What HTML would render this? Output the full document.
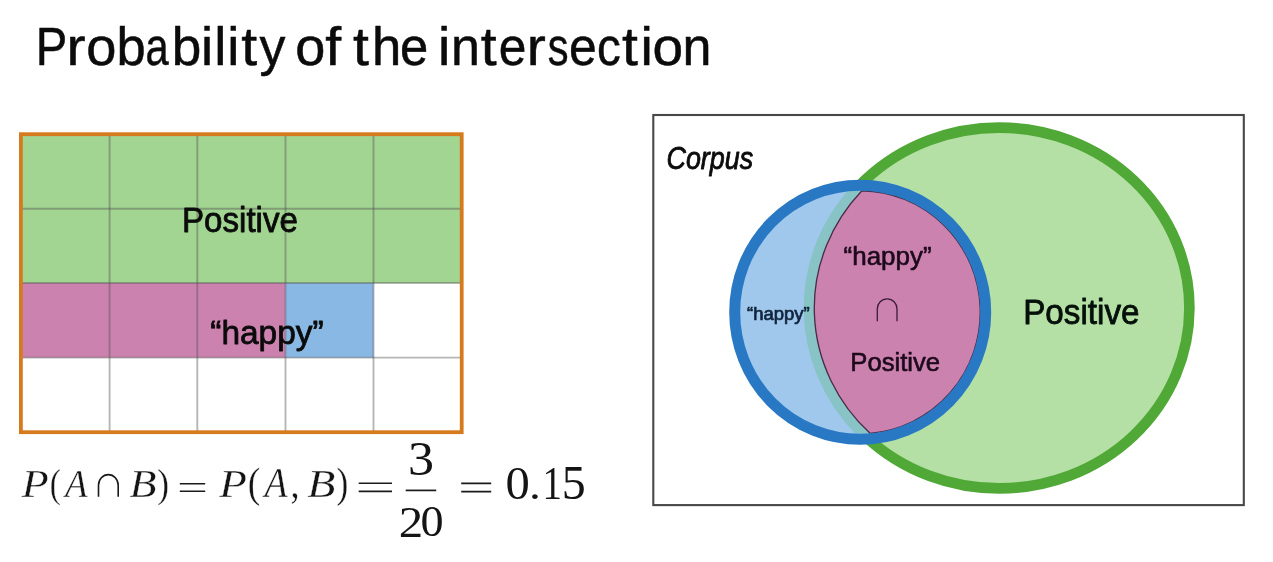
<!DOCTYPE html>
<html lang="en">
<head>
<meta charset="utf-8">
<title>Probability of the intersection</title>
<style>
  html, body { margin: 0; padding: 0; background: #ffffff; }
  body { width: 1273px; height: 562px; overflow: hidden; position: relative;
         font-family: "Liberation Sans", sans-serif; }
  svg { position: absolute; left: 0; top: 0; display: block; }
  svg text { font-kerning: none; white-space: pre; }
</style>
</head>
<body>
<svg width="1273" height="562" viewBox="0 0 1273 562">
  <defs>
    <filter id="soft" x="0" y="0" width="1273" height="562" filterUnits="userSpaceOnUse" color-interpolation-filters="sRGB"><feGaussianBlur stdDeviation="0.65"/></filter>
    <clipPath id="blueInner"><ellipse cx="860.2" cy="312.25" rx="120.00" ry="121.50"/></clipPath>
  </defs>
  <rect x="0" y="0" width="1273" height="562" fill="#ffffff"/>

  <g id="slide" filter="url(#soft)">
  <rect x="0" y="0" width="1273" height="562" fill="#ffffff"/>
  <!-- ===== Grid ===== -->
  <g id="grid">
    <rect x="21" y="134" width="440" height="149" fill="#a2d492"/>
    <rect x="21" y="283" width="264.6" height="74.6" fill="#cc82ae"/>
    <rect x="285.6" y="283" width="87.9" height="74.6" fill="#89b8e4"/>
    <g stroke="#505050" stroke-opacity="0.42" stroke-width="1.9" fill="none">
      <line x1="109.6" y1="134" x2="109.6" y2="432"/>
      <line x1="197.3" y1="134" x2="197.3" y2="432"/>
      <line x1="285.5" y1="134" x2="285.5" y2="432"/>
      <line x1="373.5" y1="134" x2="373.5" y2="432"/>
      <line x1="21" y1="208.8" x2="461" y2="208.8"/>
      <line x1="21" y1="283" x2="461" y2="283"/>
      <line x1="21" y1="357.6" x2="461" y2="357.6"/>
    </g>
    <rect x="20.9" y="134.2" width="440.8" height="298" fill="none" stroke="#d67a1e" stroke-width="3.8"/>
  </g>

  <!-- ===== Venn diagram ===== -->
  <g id="venn">
    <rect x="653.3" y="115" width="590.5" height="390.1" fill="#ffffff" stroke="#484848" stroke-width="2.1"/>
    <ellipse cx="999.2" cy="308.0" rx="190.2" ry="180.4" fill="#b5e0a5" stroke="#50a836" stroke-width="10.6"/>
    <ellipse cx="860.2" cy="312.25" rx="125.5" ry="127.0" fill="#a0c7ec" stroke="none"/>
    <ellipse cx="999.2" cy="308.0" rx="190.2" ry="180.4" fill="none" stroke="#88c3c6" stroke-width="10.6" clip-path="url(#blueInner)"/>
    <path d="M861.86 190.76 A120.00 121.50 0 0 1 870.08 433.34 A184.90 175.10 0 0 1 861.86 190.76 Z" fill="#cc82ae" stroke="#4a2a44" stroke-width="1.3" stroke-linejoin="round"/>
    <ellipse cx="860.2" cy="312.25" rx="125.5" ry="127.0" fill="none" stroke="#2878c4" stroke-width="11.0"/>
    <path id="vcap" d="M877.3 321.3 V308.9 a9.85 10.1 0 0 1 19.7 0 V321.3" fill="none" stroke="#3a1c3a" stroke-width="1.3"/>
  </g>

  <!-- ===== Text labels ===== -->
  <g id="labels">
    <text id="title" transform="matrix(1 0 0 1.0300 0 65.4)" y="0" style="font-family:'Liberation Sans',sans-serif;font-size:52px;fill:#0b0b0b;stroke:#0b0b0b;stroke-width:0.5px;stroke-linejoin:round;"><tspan x="35.68" textLength="31.46" lengthAdjust="spacingAndGlyphs">P</tspan><tspan x="66.55" textLength="19.05" lengthAdjust="spacingAndGlyphs">r</tspan><tspan x="86.37" textLength="30.15" lengthAdjust="spacingAndGlyphs">o</tspan><tspan x="116.47" textLength="29.19" lengthAdjust="spacingAndGlyphs">b</tspan><tspan x="145.40" textLength="23.14" lengthAdjust="spacingAndGlyphs">a</tspan><tspan x="171.82" textLength="29.56" lengthAdjust="spacingAndGlyphs">b</tspan><tspan x="201.10" textLength="12.13" lengthAdjust="spacingAndGlyphs">i</tspan><tspan x="214.17" textLength="12.13" lengthAdjust="spacingAndGlyphs">l</tspan><tspan x="227.30" textLength="12.13" lengthAdjust="spacingAndGlyphs">i</tspan><tspan x="241.18" textLength="15.89" lengthAdjust="spacingAndGlyphs">t</tspan><tspan x="259.62" textLength="25.93" lengthAdjust="spacingAndGlyphs">y</tspan> <tspan x="295.28" textLength="30.04" lengthAdjust="spacingAndGlyphs">o</tspan><tspan x="325.16" textLength="15.89" lengthAdjust="spacingAndGlyphs">f</tspan> <tspan x="353.08" textLength="15.89" lengthAdjust="spacingAndGlyphs">t</tspan><tspan x="371.90" textLength="29.27" lengthAdjust="spacingAndGlyphs">h</tspan><tspan x="399.90" textLength="28.21" lengthAdjust="spacingAndGlyphs">e</tspan> <tspan x="438.02" textLength="12.39" lengthAdjust="spacingAndGlyphs">i</tspan><tspan x="451.00" textLength="28.93" lengthAdjust="spacingAndGlyphs">n</tspan><tspan x="480.63" textLength="15.89" lengthAdjust="spacingAndGlyphs">t</tspan><tspan x="498.84" textLength="27.62" lengthAdjust="spacingAndGlyphs">e</tspan><tspan x="526.75" textLength="19.05" lengthAdjust="spacingAndGlyphs">r</tspan><tspan x="547.77" textLength="20.80" lengthAdjust="spacingAndGlyphs">s</tspan><tspan x="569.13" textLength="27.73" lengthAdjust="spacingAndGlyphs">e</tspan><tspan x="596.93" textLength="23.77" lengthAdjust="spacingAndGlyphs">c</tspan><tspan x="622.03" textLength="15.89" lengthAdjust="spacingAndGlyphs">t</tspan><tspan x="640.62" textLength="12.39" lengthAdjust="spacingAndGlyphs">i</tspan><tspan x="652.54" textLength="30.62" lengthAdjust="spacingAndGlyphs">o</tspan><tspan x="682.60" textLength="28.93" lengthAdjust="spacingAndGlyphs">n</tspan></text>
    <text id="gpos" transform="matrix(1.0038 0 0 1.0395 181.98 231.50)" x="0" y="0" style="font-family:'Liberation Sans',sans-serif;font-size:33px;fill:#0b0b0b;stroke:#0b0b0b;stroke-width:0.783px;stroke-linejoin:round;">Positive</text>
    <text id="ghap" transform="matrix(1.0130 0 0 1.0329 210.28 343.70)" x="0" y="0" style="font-family:'Liberation Sans',sans-serif;font-size:33px;fill:#0b0b0b;stroke:#0b0b0b;stroke-width:0.782px;stroke-linejoin:round;">“happy”</text>
    <text id="corpus" transform="matrix(0.8958 0 0 1.0465 666.52 169.30)" x="0" y="0" style="font-family:'Liberation Sans',sans-serif;font-style:italic;font-size:30px;fill:#0b0b0b;stroke:#0b0b0b;stroke-width:0.824px;stroke-linejoin:round;">Corpus</text>
    <text id="vhap" transform="matrix(1.0394 0 0 1.0102 843.55 264.80)" x="0" y="0" style="font-family:'Liberation Sans',sans-serif;font-size:25px;fill:#1c0a1c;stroke:#1c0a1c;stroke-width:0.585px;stroke-linejoin:round;">“happy”</text>
    <text id="vpos" transform="matrix(1.0264 0 0 1.0291 850.30 370.80)" x="0" y="0" style="font-family:'Liberation Sans',sans-serif;font-size:25px;fill:#1c0a1c;stroke:#1c0a1c;stroke-width:0.584px;stroke-linejoin:round;">Positive</text>
    <text id="vbig" transform="matrix(1.0065 0 0 1.0439 1023.18 323.70)" x="0" y="0" style="font-family:'Liberation Sans',sans-serif;font-size:33px;fill:#06100a;stroke:#06100a;stroke-width:0.780px;stroke-linejoin:round;">Positive</text>
    <text id="vsm" transform="matrix(1.0283 0 0 1.0159 747.07 320.00)" x="0" y="0" style="font-family:'Liberation Sans',sans-serif;font-size:18px;fill:#10243c;stroke:#10243c;stroke-width:0.685px;stroke-linejoin:round;">“happy”</text>
  </g>

  <!-- ===== Formula ===== -->
  <g id="formula">
    <text id="f1" transform="matrix(1.1002 0 0 0.9965 21.84 496.80)" x="0" y="0" style="font-family:'Liberation Serif',serif;font-style:italic;font-size:40px;fill:#141414;stroke:#ffffff;stroke-width:0.3px;">P</text>
    <text id="f2" transform="matrix(0.8274 0 0 1.0036 49.85 496.85)" x="0" y="0" style="font-family:'Liberation Serif',serif;font-size:40px;fill:#141414;stroke:#ffffff;stroke-width:0.3px;">(</text>
    <text id="f3" transform="matrix(0.9194 0 0 1.0036 65.01 496.60)" x="0" y="0" style="font-family:'Liberation Serif',serif;font-style:italic;font-size:40px;fill:#141414;stroke:#ffffff;stroke-width:0.3px;">A</text>
    <text id="f4" transform="matrix(1.1042 0 0 0.9889 129.59 496.60)" x="0" y="0" style="font-family:'Liberation Serif',serif;font-style:italic;font-size:40px;fill:#141414;stroke:#ffffff;stroke-width:0.3px;">B</text>
    <text id="f5" transform="matrix(0.8858 0 0 1.0174 157.16 496.74)" x="0" y="0" style="font-family:'Liberation Serif',serif;font-size:40px;fill:#141414;stroke:#ffffff;stroke-width:0.3px;">)</text>
    <text id="f6" transform="matrix(1.1298 0 0 1.0118 219.34 496.80)" x="0" y="0" style="font-family:'Liberation Serif',serif;font-style:italic;font-size:40px;fill:#141414;stroke:#ffffff;stroke-width:0.3px;">P</text>
    <text id="f7" transform="matrix(0.9442 0 0 1.0450 247.84 497.00)" x="0" y="0" style="font-family:'Liberation Serif',serif;font-size:40px;fill:#141414;stroke:#ffffff;stroke-width:0.3px;">(</text>
    <text id="f8" transform="matrix(0.9380 0 0 1.0301 264.55 496.80)" x="0" y="0" style="font-family:'Liberation Serif',serif;font-style:italic;font-size:40px;fill:#141414;stroke:#ffffff;stroke-width:0.3px;">A</text>
    <text id="f9" transform="matrix(0.9065 0 0 1.0513 290.42 497.33)" x="0" y="0" style="font-family:'Liberation Serif',serif;font-size:40px;fill:#141414;stroke:#ffffff;stroke-width:0.3px;">,</text>
    <text id="f10" transform="matrix(1.1517 0 0 0.9965 307.37 496.80)" x="0" y="0" style="font-family:'Liberation Serif',serif;font-style:italic;font-size:40px;fill:#141414;stroke:#ffffff;stroke-width:0.3px;">B</text>
    <text id="f11" transform="matrix(0.8858 0 0 1.0450 336.56 497.00)" x="0" y="0" style="font-family:'Liberation Serif',serif;font-size:40px;fill:#141414;stroke:#ffffff;stroke-width:0.3px;">)</text>
    <text id="f12" transform="matrix(1.1315 0 0 1.0451 408.11 474.63)" x="0" y="0" style="font-family:'Liberation Serif',serif;font-size:46px;fill:#141414;">3</text>
    <text id="f13a" transform="matrix(1.1112 0 0 1.0092 398.65 536.80)" x="0" y="0" style="font-family:'Liberation Serif',serif;font-size:44px;fill:#141414;">2</text>
    <text id="f13b" transform="matrix(1.0510 0 0 0.9902 420.54 536.37)" x="0" y="0" style="font-family:'Liberation Serif',serif;font-size:44px;fill:#141414;">0</text>
    <text id="f14a" transform="matrix(1.0566 0 0 1.0309 505.45 499.14)" x="0" y="0" style="font-family:'Liberation Serif',serif;font-size:46px;fill:#141414;">0</text>
    <text id="f14b" transform="matrix(1.0303 0 0 0.8831 529.08 499.02)" x="0" y="0" style="font-family:'Liberation Serif',serif;font-size:46px;fill:#141414;">.</text>
    <text id="f14c" transform="matrix(0.8460 0 0 1.0011 542.48 498.80)" x="0" y="0" style="font-family:'Liberation Serif',serif;font-size:46px;fill:#141414;">1</text>
    <text id="f14d" transform="matrix(1.0415 0 0 1.0337 561.82 499.14)" x="0" y="0" style="font-family:'Liberation Serif',serif;font-size:46px;fill:#141414;">5</text>
    <path id="fcap" d="M98.5 496.8 V485.2 a9.85 10.6 0 0 1 19.7 0 V496.8" fill="none" stroke="#1a1a1a" stroke-width="1.6"/>
    <path id="feq1" d="M179.8 483.7 H205.2 M179.8 491.3 H205.2" stroke="#1a1a1a" stroke-width="1.6" fill="none"/>
    <path id="feq2" d="M358.7 483.3 H392 M358.7 491.4 H392" stroke="#1a1a1a" stroke-width="1.6" fill="none"/>
    <path id="fbar" d="M405.7 490.4 H436.2" stroke="#1a1a1a" stroke-width="1.7" fill="none"/>
    <path id="feq3" d="M461.2 483.4 H491.2 M461.2 491.6 H491.2" stroke="#1a1a1a" stroke-width="1.6" fill="none"/>
  </g>
  </g>
</svg>
</body>
</html>
